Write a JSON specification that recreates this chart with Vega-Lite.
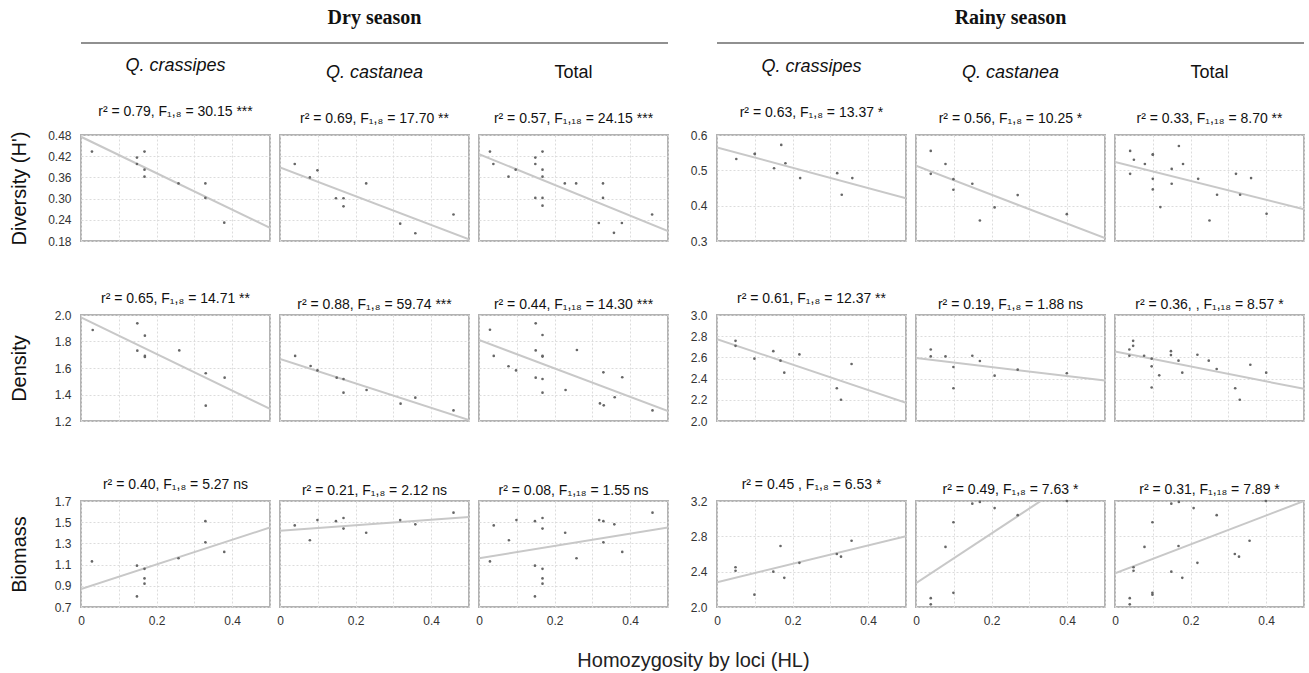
{
"$schema": "https://vega.github.io/schema/vega-lite/v6.json",
"background": "white",
"padding": {"left": 8, "top": 8, "right": 4, "bottom": 4},
"config": {
  "font": "Liberation Sans",
  "view": {"stroke": "#b3b3b3", "strokeWidth": 2},
  "axis": {"domain": false, "ticks": false, "gridColor": "#dcdcdc", "gridDash": [2, 2], "labelFontSize": 12, "labelColor": "#333333", "titleFontWeight": "normal", "titleColor": "#111111"},
  "title": {"fontSize": 14, "fontWeight": "normal", "color": "#111111", "offset": 3, "subtitleFontSize": 14, "subtitleColor": "#111111"}
},
"datasets": {
  "pts": [
    {"p":1,"x":0.029,"y":0.433},{"p":1,"x":0.148,"y":0.416},{"p":1,"x":0.148,"y":0.398},{"p":1,"x":0.168,"y":0.433},{"p":1,"x":0.168,"y":0.382},{"p":1,"x":0.168,"y":0.362},{"p":1,"x":0.258,"y":0.343},{"p":1,"x":0.329,"y":0.343},{"p":1,"x":0.329,"y":0.302},{"p":1,"x":0.379,"y":0.232},
    {"p":2,"x":0.039,"y":0.398},{"p":2,"x":0.079,"y":0.360},{"p":2,"x":0.099,"y":0.380},{"p":2,"x":0.148,"y":0.301},{"p":2,"x":0.168,"y":0.301},{"p":2,"x":0.168,"y":0.278},{"p":2,"x":0.228,"y":0.343},{"p":2,"x":0.318,"y":0.229},{"p":2,"x":0.358,"y":0.202},{"p":2,"x":0.459,"y":0.255},
    {"p":3,"x":0.029,"y":0.433},{"p":3,"x":0.038,"y":0.398},{"p":3,"x":0.078,"y":0.362},{"p":3,"x":0.097,"y":0.382},{"p":3,"x":0.149,"y":0.416},{"p":3,"x":0.149,"y":0.398},{"p":3,"x":0.168,"y":0.433},{"p":3,"x":0.168,"y":0.382},{"p":3,"x":0.168,"y":0.362},{"p":3,"x":0.149,"y":0.302},{"p":3,"x":0.168,"y":0.302},{"p":3,"x":0.168,"y":0.280},{"p":3,"x":0.227,"y":0.343},{"p":3,"x":0.257,"y":0.343},{"p":3,"x":0.328,"y":0.343},{"p":3,"x":0.328,"y":0.302},{"p":3,"x":0.317,"y":0.231},{"p":3,"x":0.378,"y":0.231},{"p":3,"x":0.357,"y":0.203},{"p":3,"x":0.458,"y":0.255},
    {"p":4,"x":0.051,"y":0.532},{"p":4,"x":0.100,"y":0.546},{"p":4,"x":0.151,"y":0.506},{"p":4,"x":0.170,"y":0.572},{"p":4,"x":0.181,"y":0.520},{"p":4,"x":0.220,"y":0.478},{"p":4,"x":0.318,"y":0.492},{"p":4,"x":0.330,"y":0.431},{"p":4,"x":0.358,"y":0.478},{"p":4,"x":0.100,"y":0.547},
    {"p":5,"x":0.039,"y":0.555},{"p":5,"x":0.078,"y":0.518},{"p":5,"x":0.039,"y":0.490},{"p":5,"x":0.099,"y":0.475},{"p":5,"x":0.099,"y":0.445},{"p":5,"x":0.149,"y":0.462},{"p":5,"x":0.169,"y":0.358},{"p":5,"x":0.208,"y":0.395},{"p":5,"x":0.269,"y":0.430},{"p":5,"x":0.399,"y":0.376},
    {"p":6,"x":0.040,"y":0.555},{"p":6,"x":0.050,"y":0.530},{"p":6,"x":0.040,"y":0.490},{"p":6,"x":0.079,"y":0.518},{"p":6,"x":0.100,"y":0.544},{"p":6,"x":0.100,"y":0.476},{"p":6,"x":0.100,"y":0.446},{"p":6,"x":0.120,"y":0.396},{"p":6,"x":0.150,"y":0.504},{"p":6,"x":0.150,"y":0.462},{"p":6,"x":0.169,"y":0.569},{"p":6,"x":0.180,"y":0.518},{"p":6,"x":0.220,"y":0.476},{"p":6,"x":0.250,"y":0.358},{"p":6,"x":0.270,"y":0.431},{"p":6,"x":0.320,"y":0.490},{"p":6,"x":0.331,"y":0.431},{"p":6,"x":0.360,"y":0.478},{"p":6,"x":0.401,"y":0.377},{"p":6,"x":0.100,"y":0.545},
    {"p":7,"x":0.031,"y":1.887},{"p":7,"x":0.149,"y":1.937},{"p":7,"x":0.149,"y":1.731},{"p":7,"x":0.169,"y":1.844},{"p":7,"x":0.169,"y":1.691},{"p":7,"x":0.169,"y":1.683},{"p":7,"x":0.260,"y":1.733},{"p":7,"x":0.330,"y":1.560},{"p":7,"x":0.380,"y":1.527},{"p":7,"x":0.330,"y":1.316},
    {"p":8,"x":0.040,"y":1.691},{"p":8,"x":0.081,"y":1.615},{"p":8,"x":0.099,"y":1.582},{"p":8,"x":0.150,"y":1.527},{"p":8,"x":0.168,"y":1.517},{"p":8,"x":0.168,"y":1.414},{"p":8,"x":0.229,"y":1.434},{"p":8,"x":0.319,"y":1.331},{"p":8,"x":0.358,"y":1.376},{"p":8,"x":0.459,"y":1.280},
    {"p":9,"x":0.029,"y":1.889},{"p":9,"x":0.039,"y":1.691},{"p":9,"x":0.078,"y":1.613},{"p":9,"x":0.098,"y":1.582},{"p":9,"x":0.150,"y":1.937},{"p":9,"x":0.150,"y":1.733},{"p":9,"x":0.168,"y":1.849},{"p":9,"x":0.168,"y":1.691},{"p":9,"x":0.168,"y":1.686},{"p":9,"x":0.150,"y":1.527},{"p":9,"x":0.168,"y":1.517},{"p":9,"x":0.168,"y":1.414},{"p":9,"x":0.229,"y":1.434},{"p":9,"x":0.259,"y":1.736},{"p":9,"x":0.329,"y":1.567},{"p":9,"x":0.320,"y":1.333},{"p":9,"x":0.330,"y":1.318},{"p":9,"x":0.359,"y":1.379},{"p":9,"x":0.379,"y":1.530},{"p":9,"x":0.459,"y":1.280},
    {"p":10,"x":0.049,"y":2.756},{"p":10,"x":0.049,"y":2.709},{"p":10,"x":0.099,"y":2.588},{"p":10,"x":0.149,"y":2.659},{"p":10,"x":0.168,"y":2.569},{"p":10,"x":0.178,"y":2.456},{"p":10,"x":0.218,"y":2.628},{"p":10,"x":0.317,"y":2.309},{"p":10,"x":0.328,"y":2.200},{"p":10,"x":0.356,"y":2.538},
    {"p":11,"x":0.039,"y":2.675},{"p":11,"x":0.039,"y":2.609},{"p":11,"x":0.078,"y":2.609},{"p":11,"x":0.099,"y":2.509},{"p":11,"x":0.099,"y":2.309},{"p":11,"x":0.149,"y":2.616},{"p":11,"x":0.169,"y":2.566},{"p":11,"x":0.208,"y":2.428},{"p":11,"x":0.269,"y":2.484},{"p":11,"x":0.399,"y":2.450},
    {"p":12,"x":0.038,"y":2.675},{"p":12,"x":0.038,"y":2.616},{"p":12,"x":0.048,"y":2.756},{"p":12,"x":0.048,"y":2.709},{"p":12,"x":0.077,"y":2.616},{"p":12,"x":0.097,"y":2.588},{"p":12,"x":0.097,"y":2.516},{"p":12,"x":0.097,"y":2.316},{"p":12,"x":0.117,"y":2.431},{"p":12,"x":0.148,"y":2.659},{"p":12,"x":0.148,"y":2.622},{"p":12,"x":0.168,"y":2.569},{"p":12,"x":0.178,"y":2.456},{"p":12,"x":0.218,"y":2.625},{"p":12,"x":0.248,"y":2.569},{"p":12,"x":0.269,"y":2.491},{"p":12,"x":0.318,"y":2.309},{"p":12,"x":0.330,"y":2.200},{"p":12,"x":0.358,"y":2.531},{"p":12,"x":0.400,"y":2.456},
    {"p":13,"x":0.029,"y":1.13},{"p":13,"x":0.148,"y":0.80},{"p":13,"x":0.148,"y":1.09},{"p":13,"x":0.168,"y":1.06},{"p":13,"x":0.168,"y":0.97},{"p":13,"x":0.168,"y":0.92},{"p":13,"x":0.258,"y":1.16},{"p":13,"x":0.329,"y":1.51},{"p":13,"x":0.329,"y":1.31},{"p":13,"x":0.379,"y":1.22},
    {"p":14,"x":0.039,"y":1.47},{"p":14,"x":0.079,"y":1.33},{"p":14,"x":0.099,"y":1.52},{"p":14,"x":0.148,"y":1.51},{"p":14,"x":0.168,"y":1.54},{"p":14,"x":0.168,"y":1.44},{"p":14,"x":0.228,"y":1.40},{"p":14,"x":0.318,"y":1.52},{"p":14,"x":0.358,"y":1.48},{"p":14,"x":0.459,"y":1.59},
    {"p":15,"x":0.029,"y":1.13},{"p":15,"x":0.148,"y":0.80},{"p":15,"x":0.148,"y":1.09},{"p":15,"x":0.168,"y":1.06},{"p":15,"x":0.168,"y":0.97},{"p":15,"x":0.168,"y":0.92},{"p":15,"x":0.258,"y":1.16},{"p":15,"x":0.329,"y":1.51},{"p":15,"x":0.329,"y":1.31},{"p":15,"x":0.379,"y":1.22},{"p":15,"x":0.039,"y":1.47},{"p":15,"x":0.079,"y":1.33},{"p":15,"x":0.099,"y":1.52},{"p":15,"x":0.148,"y":1.51},{"p":15,"x":0.168,"y":1.54},{"p":15,"x":0.168,"y":1.44},{"p":15,"x":0.228,"y":1.40},{"p":15,"x":0.318,"y":1.52},{"p":15,"x":0.358,"y":1.48},{"p":15,"x":0.459,"y":1.59},
    {"p":16,"x":0.049,"y":2.45},{"p":16,"x":0.049,"y":2.41},{"p":16,"x":0.099,"y":2.14},{"p":16,"x":0.149,"y":2.40},{"p":16,"x":0.168,"y":2.69},{"p":16,"x":0.178,"y":2.33},{"p":16,"x":0.218,"y":2.50},{"p":16,"x":0.317,"y":2.60},{"p":16,"x":0.328,"y":2.57},{"p":16,"x":0.356,"y":2.75},
    {"p":17,"x":0.039,"y":2.10},{"p":17,"x":0.039,"y":2.03},{"p":17,"x":0.078,"y":2.68},{"p":17,"x":0.099,"y":2.96},{"p":17,"x":0.099,"y":2.16},{"p":17,"x":0.149,"y":3.17},{"p":17,"x":0.169,"y":3.19},{"p":17,"x":0.208,"y":3.12},{"p":17,"x":0.269,"y":3.04},{"p":17,"x":0.399,"y":3.20},
    {"p":18,"x":0.049,"y":2.45},{"p":18,"x":0.049,"y":2.41},{"p":18,"x":0.099,"y":2.14},{"p":18,"x":0.149,"y":2.40},{"p":18,"x":0.168,"y":2.69},{"p":18,"x":0.178,"y":2.33},{"p":18,"x":0.218,"y":2.50},{"p":18,"x":0.317,"y":2.60},{"p":18,"x":0.328,"y":2.57},{"p":18,"x":0.356,"y":2.75},{"p":18,"x":0.039,"y":2.10},{"p":18,"x":0.039,"y":2.03},{"p":18,"x":0.078,"y":2.68},{"p":18,"x":0.099,"y":2.96},{"p":18,"x":0.099,"y":2.16},{"p":18,"x":0.149,"y":3.17},{"p":18,"x":0.169,"y":3.19},{"p":18,"x":0.208,"y":3.12},{"p":18,"x":0.269,"y":3.04},{"p":18,"x":0.399,"y":3.20}
  ],
  "lines": [
    {"p":1,"x":0,"y":0.475},{"p":1,"x":0.5,"y":0.217},
    {"p":2,"x":0,"y":0.388},{"p":2,"x":0.5,"y":0.185},
    {"p":3,"x":0,"y":0.426},{"p":3,"x":0.5,"y":0.208},
    {"p":4,"x":0,"y":0.565},{"p":4,"x":0.5,"y":0.421},
    {"p":5,"x":0,"y":0.513},{"p":5,"x":0.5,"y":0.308},
    {"p":6,"x":0,"y":0.524},{"p":6,"x":0.5,"y":0.390},
    {"p":7,"x":0,"y":1.982},{"p":7,"x":0.5,"y":1.291},
    {"p":8,"x":0,"y":1.668},{"p":8,"x":0.5,"y":1.208},
    {"p":9,"x":0,"y":1.811},{"p":9,"x":0.5,"y":1.275},
    {"p":10,"x":0,"y":2.772},{"p":10,"x":0.5,"y":2.172},
    {"p":11,"x":0,"y":2.594},{"p":11,"x":0.5,"y":2.381},
    {"p":12,"x":0,"y":2.656},{"p":12,"x":0.5,"y":2.303},
    {"p":13,"x":0,"y":0.87},{"p":13,"x":0.5,"y":1.45},
    {"p":14,"x":0,"y":1.42},{"p":14,"x":0.5,"y":1.55},
    {"p":15,"x":0,"y":1.16},{"p":15,"x":0.5,"y":1.45},
    {"p":16,"x":0,"y":2.28},{"p":16,"x":0.5,"y":2.80},
    {"p":17,"x":0,"y":2.27},{"p":17,"x":0.5,"y":3.68},
    {"p":18,"x":0,"y":2.38},{"p":18,"x":0.5,"y":3.20}
  ],
  "hdr": [{"k":0}]
},
"title": {"text": "Homozygosity by loci (HL)", "orient": "bottom", "anchor": "middle", "fontSize": 20, "fontWeight": "normal", "color": "#222222", "offset": 24, "dx": 37},
"spacing": 6,
"vconcat": [
  {"bounds": "flush", "spacing": 10, "hconcat": [
    {"width": 587, "height": 14, "view": {"stroke": null},
     "title": {"text": "Dry season", "font": "Liberation Serif", "fontSize": 20, "fontWeight": "bold", "color": "#111111", "offset": 8, "anchor": "middle"},
     "data": {"name": "hdr"}, "mark": {"type": "rule", "color": "#222222", "strokeWidth": 1.2},
     "encoding": {"y": {"field": "k", "type": "quantitative", "scale": {"domain": [-1, 1]}, "axis": {"labels": false, "grid": false, "title": "I", "titleColor": "white", "titleFontSize": 20, "titlePadding": 18, "minExtent": 34, "maxExtent": 34}}}},
    {"width": 29, "height": 14, "view": {"stroke": null}, "data": {"name": "hdr"}, "mark": {"type": "point", "opacity": 0}},
    {"width": 587, "height": 14, "view": {"stroke": null},
     "title": {"text": "Rainy season", "font": "Liberation Serif", "fontSize": 20, "fontWeight": "bold", "color": "#111111", "offset": 8, "anchor": "middle"},
     "data": {"name": "hdr"}, "mark": {"type": "rule", "color": "#222222", "strokeWidth": 1.2},
     "encoding": {"y": {"field": "k", "type": "quantitative", "scale": {"domain": [-1, 1]}, "axis": null}}}
  ]},
  {"spacing": 42, "vconcat": [
  {"bounds": "flush", "spacing": 10, "hconcat": [
      {"width": 189, "height": 106,
       "title": {"text": "Q. crassipes", "subtitle": "r² = 0.79, F₁,₈ = 30.15 ***", "fontSize": 18, "fontStyle": "italic", "subtitlePadding": 30, "offset": 9},
       "encoding": {
         "x": {"field": "x", "type": "quantitative", "scale": {"domain": [0, 0.5], "nice": false, "zero": false}, "axis": {"values": [0, 0.1, 0.2, 0.3, 0.4, 0.5], "grid": true, "labels": false, "title": null, "minExtent": 0, "maxExtent": 0}},
         "y": {"field": "y", "type": "quantitative", "scale": {"domain": [0.18, 0.48], "nice": false, "zero": false}, "axis": {"values": [0.18, 0.24, 0.30, 0.36, 0.42, 0.48], "format": ".2f", "grid": true, "title": "Diversity  (H')", "titleFontSize": 20, "titlePadding": 18, "minExtent": 34, "maxExtent": 34, "labelPadding": 10}}},
       "layer": [
         {"data": {"name": "lines"}, "transform": [{"filter": "datum.p == 1"}], "mark": {"type": "line", "color": "#c8c8c8", "strokeWidth": 2, "clip": true}, "encoding": {}},
         {"data": {"name": "pts"}, "transform": [{"filter": "datum.p == 1"}], "mark": {"type": "circle", "size": 7, "color": "#666666", "opacity": 1}, "encoding": {}}
       ]},
      {"width": 189, "height": 106,
       "title": {"text": "Q. castanea", "subtitle": "r² = 0.69, F₁,₈ = 17.70 **", "fontSize": 18, "fontStyle": "italic", "subtitlePadding": 30, "offset": 9},
       "encoding": {
         "x": {"field": "x", "type": "quantitative", "scale": {"domain": [0, 0.5], "nice": false, "zero": false}, "axis": {"values": [0, 0.1, 0.2, 0.3, 0.4, 0.5], "grid": true, "labels": false, "title": null, "minExtent": 0, "maxExtent": 0}},
         "y": {"field": "y", "type": "quantitative", "scale": {"domain": [0.18, 0.48], "nice": false, "zero": false}, "axis": {"values": [0.18, 0.24, 0.30, 0.36, 0.42, 0.48], "grid": true, "labels": false, "title": null, "minExtent": 0, "maxExtent": 0}}},
       "layer": [
         {"data": {"name": "lines"}, "transform": [{"filter": "datum.p == 2"}], "mark": {"type": "line", "color": "#c8c8c8", "strokeWidth": 2, "clip": true}, "encoding": {}},
         {"data": {"name": "pts"}, "transform": [{"filter": "datum.p == 2"}], "mark": {"type": "circle", "size": 7, "color": "#666666", "opacity": 1}, "encoding": {}}
       ]},
      {"width": 189, "height": 106,
       "title": {"text": "Total", "subtitle": "r² = 0.57, F₁,₁₈ = 24.15 ***", "fontSize": 18, "fontStyle": "normal", "subtitlePadding": 30, "offset": 9},
       "encoding": {
         "x": {"field": "x", "type": "quantitative", "scale": {"domain": [0, 0.5], "nice": false, "zero": false}, "axis": {"values": [0, 0.1, 0.2, 0.3, 0.4, 0.5], "grid": true, "labels": false, "title": null, "minExtent": 0, "maxExtent": 0}},
         "y": {"field": "y", "type": "quantitative", "scale": {"domain": [0.18, 0.48], "nice": false, "zero": false}, "axis": {"values": [0.18, 0.24, 0.30, 0.36, 0.42, 0.48], "grid": true, "labels": false, "title": null, "minExtent": 0, "maxExtent": 0}}},
       "layer": [
         {"data": {"name": "lines"}, "transform": [{"filter": "datum.p == 3"}], "mark": {"type": "line", "color": "#c8c8c8", "strokeWidth": 2, "clip": true}, "encoding": {}},
         {"data": {"name": "pts"}, "transform": [{"filter": "datum.p == 3"}], "mark": {"type": "circle", "size": 7, "color": "#666666", "opacity": 1}, "encoding": {}}
       ]},
      {"width": 29, "height": 106, "view": {"stroke": null}, "data": {"name": "hdr"}, "mark": {"type": "point", "opacity": 0}},
      {"width": 189, "height": 106,
       "title": {"text": "Q. crassipes", "subtitle": "r² = 0.63, F₁,₈ = 13.37 *", "fontSize": 18, "fontStyle": "italic", "subtitlePadding": 30, "offset": 9},
       "encoding": {
         "x": {"field": "x", "type": "quantitative", "scale": {"domain": [0, 0.5], "nice": false, "zero": false}, "axis": {"values": [0, 0.1, 0.2, 0.3, 0.4, 0.5], "grid": true, "labels": false, "title": null, "minExtent": 0, "maxExtent": 0}},
         "y": {"field": "y", "type": "quantitative", "scale": {"domain": [0.3, 0.6], "nice": false, "zero": false}, "axis": {"values": [0.3, 0.4, 0.5, 0.6], "format": ".1f", "grid": true, "title": null, "labelPadding": 10}}},
       "layer": [
         {"data": {"name": "lines"}, "transform": [{"filter": "datum.p == 4"}], "mark": {"type": "line", "color": "#c8c8c8", "strokeWidth": 2, "clip": true}, "encoding": {}},
         {"data": {"name": "pts"}, "transform": [{"filter": "datum.p == 4"}], "mark": {"type": "circle", "size": 7, "color": "#666666", "opacity": 1}, "encoding": {}}
       ]},
      {"width": 189, "height": 106,
       "title": {"text": "Q. castanea", "subtitle": "r² = 0.56, F₁,₈ = 10.25 *", "fontSize": 18, "fontStyle": "italic", "subtitlePadding": 30, "offset": 9},
       "encoding": {
         "x": {"field": "x", "type": "quantitative", "scale": {"domain": [0, 0.5], "nice": false, "zero": false}, "axis": {"values": [0, 0.1, 0.2, 0.3, 0.4, 0.5], "grid": true, "labels": false, "title": null, "minExtent": 0, "maxExtent": 0}},
         "y": {"field": "y", "type": "quantitative", "scale": {"domain": [0.3, 0.6], "nice": false, "zero": false}, "axis": {"values": [0.3, 0.4, 0.5, 0.6], "grid": true, "labels": false, "title": null, "minExtent": 0, "maxExtent": 0}}},
       "layer": [
         {"data": {"name": "lines"}, "transform": [{"filter": "datum.p == 5"}], "mark": {"type": "line", "color": "#c8c8c8", "strokeWidth": 2, "clip": true}, "encoding": {}},
         {"data": {"name": "pts"}, "transform": [{"filter": "datum.p == 5"}], "mark": {"type": "circle", "size": 7, "color": "#666666", "opacity": 1}, "encoding": {}}
       ]},
      {"width": 189, "height": 106,
       "title": {"text": "Total", "subtitle": "r² = 0.33, F₁,₁₈ = 8.70 **", "fontSize": 18, "fontStyle": "normal", "subtitlePadding": 30, "offset": 9},
       "encoding": {
         "x": {"field": "x", "type": "quantitative", "scale": {"domain": [0, 0.5], "nice": false, "zero": false}, "axis": {"values": [0, 0.1, 0.2, 0.3, 0.4, 0.5], "grid": true, "labels": false, "title": null, "minExtent": 0, "maxExtent": 0}},
         "y": {"field": "y", "type": "quantitative", "scale": {"domain": [0.3, 0.6], "nice": false, "zero": false}, "axis": {"values": [0.3, 0.4, 0.5, 0.6], "grid": true, "labels": false, "title": null, "minExtent": 0, "maxExtent": 0}}},
       "layer": [
         {"data": {"name": "lines"}, "transform": [{"filter": "datum.p == 6"}], "mark": {"type": "line", "color": "#c8c8c8", "strokeWidth": 2, "clip": true}, "encoding": {}},
         {"data": {"name": "pts"}, "transform": [{"filter": "datum.p == 6"}], "mark": {"type": "circle", "size": 7, "color": "#666666", "opacity": 1}, "encoding": {}}
       ]}
  ]},
  {"spacing": 49, "vconcat": [
  {"bounds": "flush", "spacing": 10, "hconcat": [
      {"width": 189, "height": 106, "title": "r² = 0.65, F₁,₈ = 14.71 **",
       "encoding": {
         "x": {"field": "x", "type": "quantitative", "scale": {"domain": [0, 0.5], "nice": false, "zero": false}, "axis": {"values": [0, 0.1, 0.2, 0.3, 0.4, 0.5], "grid": true, "labels": false, "title": null, "minExtent": 0, "maxExtent": 0}},
         "y": {"field": "y", "type": "quantitative", "scale": {"domain": [1.2, 2.0], "nice": false, "zero": false}, "axis": {"values": [1.2, 1.4, 1.6, 1.8, 2.0], "format": ".1f", "grid": true, "title": "Density", "titleFontSize": 20, "titlePadding": 18, "minExtent": 34, "maxExtent": 34, "labelPadding": 10}}},
       "layer": [
         {"data": {"name": "lines"}, "transform": [{"filter": "datum.p == 7"}], "mark": {"type": "line", "color": "#c8c8c8", "strokeWidth": 2, "clip": true}, "encoding": {}},
         {"data": {"name": "pts"}, "transform": [{"filter": "datum.p == 7"}], "mark": {"type": "circle", "size": 7, "color": "#666666", "opacity": 1}, "encoding": {}}
       ]},
      {"width": 189, "height": 106, "title": "r² = 0.88, F₁,₈ = 59.74 ***",
       "encoding": {
         "x": {"field": "x", "type": "quantitative", "scale": {"domain": [0, 0.5], "nice": false, "zero": false}, "axis": {"values": [0, 0.1, 0.2, 0.3, 0.4, 0.5], "grid": true, "labels": false, "title": null, "minExtent": 0, "maxExtent": 0}},
         "y": {"field": "y", "type": "quantitative", "scale": {"domain": [1.2, 2.0], "nice": false, "zero": false}, "axis": {"values": [1.2, 1.4, 1.6, 1.8, 2.0], "grid": true, "labels": false, "title": null, "minExtent": 0, "maxExtent": 0}}},
       "layer": [
         {"data": {"name": "lines"}, "transform": [{"filter": "datum.p == 8"}], "mark": {"type": "line", "color": "#c8c8c8", "strokeWidth": 2, "clip": true}, "encoding": {}},
         {"data": {"name": "pts"}, "transform": [{"filter": "datum.p == 8"}], "mark": {"type": "circle", "size": 7, "color": "#666666", "opacity": 1}, "encoding": {}}
       ]},
      {"width": 189, "height": 106, "title": "r² = 0.44, F₁,₁₈ = 14.30 ***",
       "encoding": {
         "x": {"field": "x", "type": "quantitative", "scale": {"domain": [0, 0.5], "nice": false, "zero": false}, "axis": {"values": [0, 0.1, 0.2, 0.3, 0.4, 0.5], "grid": true, "labels": false, "title": null, "minExtent": 0, "maxExtent": 0}},
         "y": {"field": "y", "type": "quantitative", "scale": {"domain": [1.2, 2.0], "nice": false, "zero": false}, "axis": {"values": [1.2, 1.4, 1.6, 1.8, 2.0], "grid": true, "labels": false, "title": null, "minExtent": 0, "maxExtent": 0}}},
       "layer": [
         {"data": {"name": "lines"}, "transform": [{"filter": "datum.p == 9"}], "mark": {"type": "line", "color": "#c8c8c8", "strokeWidth": 2, "clip": true}, "encoding": {}},
         {"data": {"name": "pts"}, "transform": [{"filter": "datum.p == 9"}], "mark": {"type": "circle", "size": 7, "color": "#666666", "opacity": 1}, "encoding": {}}
       ]},
      {"width": 29, "height": 106, "view": {"stroke": null}, "data": {"name": "hdr"}, "mark": {"type": "point", "opacity": 0}},
      {"width": 189, "height": 106, "title": "r² = 0.61, F₁,₈ = 12.37 **",
       "encoding": {
         "x": {"field": "x", "type": "quantitative", "scale": {"domain": [0, 0.5], "nice": false, "zero": false}, "axis": {"values": [0, 0.1, 0.2, 0.3, 0.4, 0.5], "grid": true, "labels": false, "title": null, "minExtent": 0, "maxExtent": 0}},
         "y": {"field": "y", "type": "quantitative", "scale": {"domain": [2.0, 3.0], "nice": false, "zero": false}, "axis": {"values": [2.0, 2.2, 2.4, 2.6, 2.8, 3.0], "format": ".1f", "grid": true, "title": null, "labelPadding": 10}}},
       "layer": [
         {"data": {"name": "lines"}, "transform": [{"filter": "datum.p == 10"}], "mark": {"type": "line", "color": "#c8c8c8", "strokeWidth": 2, "clip": true}, "encoding": {}},
         {"data": {"name": "pts"}, "transform": [{"filter": "datum.p == 10"}], "mark": {"type": "circle", "size": 7, "color": "#666666", "opacity": 1}, "encoding": {}}
       ]},
      {"width": 189, "height": 106, "title": "r² = 0.19, F₁,₈ = 1.88 ns",
       "encoding": {
         "x": {"field": "x", "type": "quantitative", "scale": {"domain": [0, 0.5], "nice": false, "zero": false}, "axis": {"values": [0, 0.1, 0.2, 0.3, 0.4, 0.5], "grid": true, "labels": false, "title": null, "minExtent": 0, "maxExtent": 0}},
         "y": {"field": "y", "type": "quantitative", "scale": {"domain": [2.0, 3.0], "nice": false, "zero": false}, "axis": {"values": [2.0, 2.2, 2.4, 2.6, 2.8, 3.0], "grid": true, "labels": false, "title": null, "minExtent": 0, "maxExtent": 0}}},
       "layer": [
         {"data": {"name": "lines"}, "transform": [{"filter": "datum.p == 11"}], "mark": {"type": "line", "color": "#c8c8c8", "strokeWidth": 2, "clip": true}, "encoding": {}},
         {"data": {"name": "pts"}, "transform": [{"filter": "datum.p == 11"}], "mark": {"type": "circle", "size": 7, "color": "#666666", "opacity": 1}, "encoding": {}}
       ]},
      {"width": 189, "height": 106, "title": "r² = 0.36, , F₁,₁₈ = 8.57  *",
       "encoding": {
         "x": {"field": "x", "type": "quantitative", "scale": {"domain": [0, 0.5], "nice": false, "zero": false}, "axis": {"values": [0, 0.1, 0.2, 0.3, 0.4, 0.5], "grid": true, "labels": false, "title": null, "minExtent": 0, "maxExtent": 0}},
         "y": {"field": "y", "type": "quantitative", "scale": {"domain": [2.0, 3.0], "nice": false, "zero": false}, "axis": {"values": [2.0, 2.2, 2.4, 2.6, 2.8, 3.0], "grid": true, "labels": false, "title": null, "minExtent": 0, "maxExtent": 0}}},
       "layer": [
         {"data": {"name": "lines"}, "transform": [{"filter": "datum.p == 12"}], "mark": {"type": "line", "color": "#c8c8c8", "strokeWidth": 2, "clip": true}, "encoding": {}},
         {"data": {"name": "pts"}, "transform": [{"filter": "datum.p == 12"}], "mark": {"type": "circle", "size": 7, "color": "#666666", "opacity": 1}, "encoding": {}}
       ]}
  ]},
  {"bounds": "flush", "spacing": 10, "hconcat": [
      {"width": 189, "height": 106, "title": "r² = 0.40, F₁,₈ = 5.27 ns",
       "encoding": {
         "x": {"field": "x", "type": "quantitative", "scale": {"domain": [0, 0.5], "nice": false, "zero": false}, "axis": {"values": [0, 0.1, 0.2, 0.3, 0.4, 0.5], "grid": true, "title": null, "labelFlush": false, "labelOverlap": false, "labelPadding": 8, "labelExpr": "round(datum.value*10)%2 == 0 && datum.value < 0.45 ? format(datum.value, '~g') : ''"}},
         "y": {"field": "y", "type": "quantitative", "scale": {"domain": [0.7, 1.7], "nice": false, "zero": false}, "axis": {"values": [0.7, 0.9, 1.1, 1.3, 1.5, 1.7], "format": ".1f", "grid": true, "title": "Biomass", "titleFontSize": 20, "titlePadding": 18, "minExtent": 34, "maxExtent": 34, "labelPadding": 10}}},
       "layer": [
         {"data": {"name": "lines"}, "transform": [{"filter": "datum.p == 13"}], "mark": {"type": "line", "color": "#c8c8c8", "strokeWidth": 2, "clip": true}, "encoding": {}},
         {"data": {"name": "pts"}, "transform": [{"filter": "datum.p == 13"}], "mark": {"type": "circle", "size": 7, "color": "#666666", "opacity": 1}, "encoding": {}}
       ]},
      {"width": 189, "height": 106, "title": "r² = 0.21, F₁,₈ = 2.12 ns",
       "encoding": {
         "x": {"field": "x", "type": "quantitative", "scale": {"domain": [0, 0.5], "nice": false, "zero": false}, "axis": {"values": [0, 0.1, 0.2, 0.3, 0.4, 0.5], "grid": true, "title": null, "labelFlush": false, "labelOverlap": false, "labelPadding": 8, "labelExpr": "round(datum.value*10)%2 == 0 && datum.value < 0.45 ? format(datum.value, '~g') : ''"}},
         "y": {"field": "y", "type": "quantitative", "scale": {"domain": [0.7, 1.7], "nice": false, "zero": false}, "axis": {"values": [0.7, 0.9, 1.1, 1.3, 1.5, 1.7], "grid": true, "labels": false, "title": null, "minExtent": 0, "maxExtent": 0}}},
       "layer": [
         {"data": {"name": "lines"}, "transform": [{"filter": "datum.p == 14"}], "mark": {"type": "line", "color": "#c8c8c8", "strokeWidth": 2, "clip": true}, "encoding": {}},
         {"data": {"name": "pts"}, "transform": [{"filter": "datum.p == 14"}], "mark": {"type": "circle", "size": 7, "color": "#666666", "opacity": 1}, "encoding": {}}
       ]},
      {"width": 189, "height": 106, "title": "r² = 0.08, F₁,₁₈ = 1.55 ns",
       "encoding": {
         "x": {"field": "x", "type": "quantitative", "scale": {"domain": [0, 0.5], "nice": false, "zero": false}, "axis": {"values": [0, 0.1, 0.2, 0.3, 0.4, 0.5], "grid": true, "title": null, "labelFlush": false, "labelOverlap": false, "labelPadding": 8, "labelExpr": "round(datum.value*10)%2 == 0 && datum.value < 0.45 ? format(datum.value, '~g') : ''"}},
         "y": {"field": "y", "type": "quantitative", "scale": {"domain": [0.7, 1.7], "nice": false, "zero": false}, "axis": {"values": [0.7, 0.9, 1.1, 1.3, 1.5, 1.7], "grid": true, "labels": false, "title": null, "minExtent": 0, "maxExtent": 0}}},
       "layer": [
         {"data": {"name": "lines"}, "transform": [{"filter": "datum.p == 15"}], "mark": {"type": "line", "color": "#c8c8c8", "strokeWidth": 2, "clip": true}, "encoding": {}},
         {"data": {"name": "pts"}, "transform": [{"filter": "datum.p == 15"}], "mark": {"type": "circle", "size": 7, "color": "#666666", "opacity": 1}, "encoding": {}}
       ]},
      {"width": 29, "height": 106, "view": {"stroke": null}, "data": {"name": "hdr"}, "mark": {"type": "point", "opacity": 0}},
      {"width": 189, "height": 106, "title": "r² = 0.45 , F₁,₈ = 6.53 *",
       "encoding": {
         "x": {"field": "x", "type": "quantitative", "scale": {"domain": [0, 0.5], "nice": false, "zero": false}, "axis": {"values": [0, 0.1, 0.2, 0.3, 0.4, 0.5], "grid": true, "title": null, "labelFlush": false, "labelOverlap": false, "labelPadding": 8, "labelExpr": "round(datum.value*10)%2 == 0 && datum.value < 0.45 ? format(datum.value, '~g') : ''"}},
         "y": {"field": "y", "type": "quantitative", "scale": {"domain": [2.0, 3.2], "nice": false, "zero": false}, "axis": {"values": [2.0, 2.4, 2.8, 3.2], "format": ".1f", "grid": true, "title": null, "labelPadding": 10}}},
       "layer": [
         {"data": {"name": "lines"}, "transform": [{"filter": "datum.p == 16"}], "mark": {"type": "line", "color": "#c8c8c8", "strokeWidth": 2, "clip": true}, "encoding": {}},
         {"data": {"name": "pts"}, "transform": [{"filter": "datum.p == 16"}], "mark": {"type": "circle", "size": 7, "color": "#666666", "opacity": 1}, "encoding": {}}
       ]},
      {"width": 189, "height": 106, "title": "r² = 0.49, F₁,₈ = 7.63 *",
       "encoding": {
         "x": {"field": "x", "type": "quantitative", "scale": {"domain": [0, 0.5], "nice": false, "zero": false}, "axis": {"values": [0, 0.1, 0.2, 0.3, 0.4, 0.5], "grid": true, "title": null, "labelFlush": false, "labelOverlap": false, "labelPadding": 8, "labelExpr": "round(datum.value*10)%2 == 0 && datum.value < 0.45 ? format(datum.value, '~g') : ''"}},
         "y": {"field": "y", "type": "quantitative", "scale": {"domain": [2.0, 3.2], "nice": false, "zero": false}, "axis": {"values": [2.0, 2.4, 2.8, 3.2], "grid": true, "labels": false, "title": null, "minExtent": 0, "maxExtent": 0}}},
       "layer": [
         {"data": {"name": "lines"}, "transform": [{"filter": "datum.p == 17"}], "mark": {"type": "line", "color": "#c8c8c8", "strokeWidth": 2, "clip": true}, "encoding": {}},
         {"data": {"name": "pts"}, "transform": [{"filter": "datum.p == 17"}], "mark": {"type": "circle", "size": 7, "color": "#666666", "opacity": 1}, "encoding": {}}
       ]},
      {"width": 189, "height": 106, "title": "r² = 0.31, F₁,₁₈ = 7.89  *",
       "encoding": {
         "x": {"field": "x", "type": "quantitative", "scale": {"domain": [0, 0.5], "nice": false, "zero": false}, "axis": {"values": [0, 0.1, 0.2, 0.3, 0.4, 0.5], "grid": true, "title": null, "labelFlush": false, "labelOverlap": false, "labelPadding": 8, "labelExpr": "round(datum.value*10)%2 == 0 && datum.value < 0.45 ? format(datum.value, '~g') : ''"}},
         "y": {"field": "y", "type": "quantitative", "scale": {"domain": [2.0, 3.2], "nice": false, "zero": false}, "axis": {"values": [2.0, 2.4, 2.8, 3.2], "grid": true, "labels": false, "title": null, "minExtent": 0, "maxExtent": 0}}},
       "layer": [
         {"data": {"name": "lines"}, "transform": [{"filter": "datum.p == 18"}], "mark": {"type": "line", "color": "#c8c8c8", "strokeWidth": 2, "clip": true}, "encoding": {}},
         {"data": {"name": "pts"}, "transform": [{"filter": "datum.p == 18"}], "mark": {"type": "circle", "size": 7, "color": "#666666", "opacity": 1}, "encoding": {}}
       ]}
  ]}
  ]}
  ]}
]
}
